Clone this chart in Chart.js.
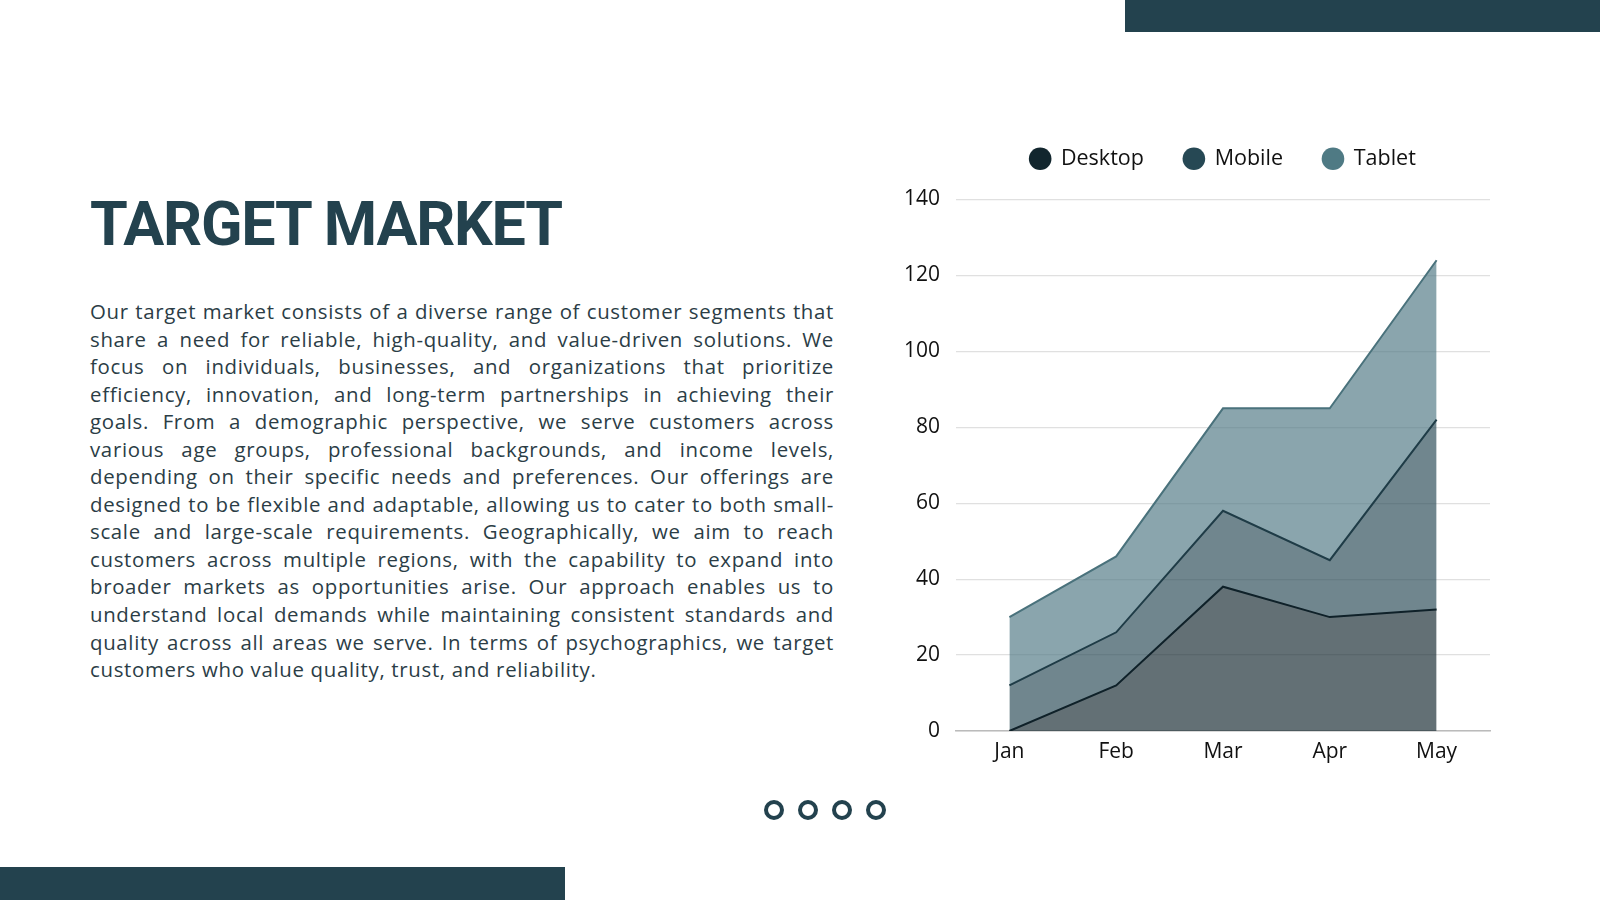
<!DOCTYPE html>
<html>
<head>
<meta charset="utf-8">
<script src="https://cdn.jsdelivr.net/npm/chart.js@4.4.1/dist/chart.umd.min.js"></script>
<style>
  html, body { margin:0; padding:0; background:#fff; }
  body { width:1600px; height:900px; position:relative; overflow:hidden; font-family:"Open Sans", sans-serif; }
  .bar { position:absolute; background:#23424e; }
  #title { position:absolute; left:90px; top:194px; margin:0; font-family:Roboto, sans-serif; font-weight:700; font-size:61px; line-height:1; color:#23424e; white-space:nowrap; }
  #body { position:absolute; left:90px; top:298px; width:744px; color:#2b3d46; font-size:20.4px; }
  #body div { height:27.55px; line-height:27.55px; text-align:justify; text-align-last:justify; white-space:nowrap; }
  #body div.last { text-align-last:left; }
  .dot { position:absolute; width:12px; height:12px; border:4px solid #23424e; border-radius:50%; }
  #chartWrap { position:absolute; left:860px; top:108px; width:640px; height:663px; }
</style>
</head>
<body>
<div class="bar" style="left:1125px; top:0; width:475px; height:32px;"></div>
<div class="bar" style="left:0; top:867px; width:565px; height:33px;"></div>
<h1 id="title">TARGET MARKET</h1>
<div id="body"></div>
<div class="dot" style="left:764px; top:800px;"></div>
<div class="dot" style="left:798px; top:800px;"></div>
<div class="dot" style="left:832px; top:800px;"></div>
<div class="dot" style="left:866px; top:800px;"></div>
<div id="chartWrap"><canvas id="c"></canvas></div>
<script>
const categories = ['Jan', 'Feb', 'Mar', 'Apr', 'May'];
const desktop = [0, 12, 38, 30, 32];
const mobile = [12, 14, 20, 15, 50];
const tablet = [18, 20, 27, 40, 42];
const seriesNames = ['Desktop', 'Mobile', 'Tablet'];
const yMax = 140;
const yStep = 20;

const bodyLines = [
  'Our target market consists of a diverse range of customer segments that',
  'share a need for reliable, high-quality, and value-driven solutions. We',
  'focus on individuals, businesses, and organizations that prioritize',
  'efficiency, innovation, and long-term partnerships in achieving their',
  'goals. From a demographic perspective, we serve customers across',
  'various age groups, professional backgrounds, and income levels,',
  'depending on their specific needs and preferences. Our offerings are',
  'designed to be flexible and adaptable, allowing us to cater to both small-',
  'scale and large-scale requirements. Geographically, we aim to reach',
  'customers across multiple regions, with the capability to expand into',
  'broader markets as opportunities arise. Our approach enables us to',
  'understand local demands while maintaining consistent standards and',
  'quality across all areas we serve. In terms of psychographics, we target',
  'customers who value quality, trust, and reliability.'
];
const bodyEl = document.getElementById('body');
bodyLines.forEach((t, i) => {
  const d = document.createElement('div');
  d.textContent = t;
  if (i === bodyLines.length - 1) d.className = 'last';
  bodyEl.appendChild(d);
});
// widen letter spacing so the tightest line (line 8) naturally fills the width, like the original font
const probe = document.createElement('span');
probe.style.whiteSpace = 'nowrap';
probe.textContent = bodyLines[7];
bodyEl.appendChild(probe);
const natural = probe.getBoundingClientRect().width;
bodyEl.removeChild(probe);
const ls = Math.max(0, (738 - natural) / bodyLines[7].length);
bodyEl.style.letterSpacing = ls + 'px';
bodyEl.querySelectorAll('div').forEach(d => { if (d.className !== 'last') d.style.whiteSpace = 'normal'; });

// fit title width
const title = document.getElementById('title');
const tw = title.getBoundingClientRect().width;
title.style.letterSpacing = ((473 - tw) / 12) + 'px';

const solid = ['#12262e', '#264854', '#4f7a84'];
const fills = ['rgba(18,38,46,0.66)', 'rgba(38,72,84,0.66)', 'rgba(78,119,130,0.66)'];
const lines = ['#0f2129', '#1f3c47', '#4a727c'];
const seriesData = [desktop, mobile, tablet];

const fontFam = '"Open Sans", sans-serif';
const legendGap = {
  id: 'legendGap',
  beforeInit(chart) {
    const fit = chart.legend.fit;
    chart.legend.fit = function () { fit.call(this); this.height += 20; };
  }
};

new Chart(document.getElementById('c'), {
  type: 'line',
  data: {
    labels: categories,
    datasets: seriesData.map((d, i) => ({
      label: seriesNames[i],
      data: d,
      fill: i === 0 ? 'origin' : '-1',
      backgroundColor: fills[i],
      borderColor: lines[i],
      borderWidth: 2,
      pointRadius: 0,
      pointHoverRadius: 0,
      pointBackgroundColor: solid[i],
      pointBorderColor: solid[i],
      pointBorderWidth: 0,
      tension: 0
    }))
  },
  options: {
    responsive: true,
    maintainAspectRatio: false,
    animation: false,
    layout: { padding: { left: 0, right: 10, top: 0, bottom: 0 } },
    plugins: {
      legend: {
        position: 'top',
        fullSize: false,
        labels: {
          usePointStyle: true,
          pointStyle: 'circle',
          boxWidth: 20,
          boxHeight: 16,
          padding: 40,
          color: '#111',
          font: { family: fontFam, size: 21.5 }
        }
      },
      tooltip: { enabled: false }
    },
    scales: {
      x: {
        offset: true,
        grid: { display: false },
        border: { display: true, color: '#bbbbbb', width: 1.5 },
        ticks: { color: '#111', padding: 0, font: { family: fontFam, size: 21 } },
        afterFit(s) { s.height = 40; }
      },
      y: {
        stacked: true,
        min: 0,
        max: yMax,
        border: { display: false },
        grid: { color: '#e0e0e0', lineWidth: 1.2, drawTicks: false },
        ticks: { stepSize: yStep, color: '#111', padding: 16, font: { family: fontFam, size: 21 } },
        afterFit(s) { s.width = 96; }
      }
    }
  },
  plugins: [legendGap]
});
</script>
</body>
</html>
